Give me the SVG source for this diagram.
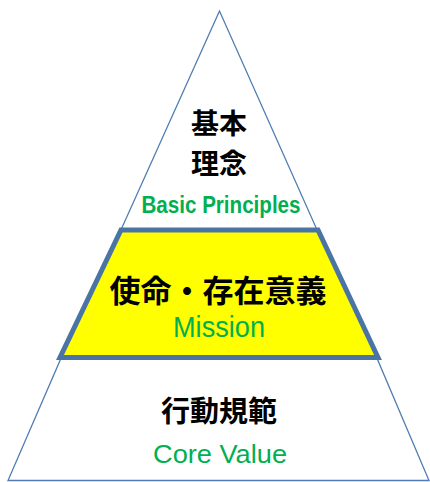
<svg xmlns="http://www.w3.org/2000/svg" width="430" height="482" viewBox="0 0 430 482">
<style>
.thin{fill:#fff;stroke:#4f7db3;stroke-width:1.3;stroke-linejoin:miter}
.thick{fill:#ffff00;stroke:#4a74a6;stroke-width:5;stroke-linejoin:miter}
.jp{font-family:"Noto Sans CJK JP","Noto Sans CJK SC",sans-serif;font-weight:bold;fill:#000;text-anchor:middle}
.en{font-family:"Liberation Sans","DejaVu Sans",sans-serif;fill:#00b050;text-anchor:middle}
</style>
<rect width="430" height="482" fill="#fff"/>
<g id="basic-principles">
<polygon class="thin" points="219.5,11 120,232 318,232"/>
<text class="jp" x="219" y="134" font-size="28">基本</text>
<text class="jp" x="219" y="174" font-size="28">理念</text>
<text class="en" x="221" y="213" font-size="23" font-weight="bold" textLength="159" lengthAdjust="spacingAndGlyphs">Basic Principles</text>
</g>
<g id="core-value">
<polygon class="thin" points="62,356 376,356 429,480.5 8,480.5"/>
<text class="jp" x="219" y="422" font-size="29">行動規範</text>
<text class="en" x="220" y="463" font-size="25" textLength="134" lengthAdjust="spacingAndGlyphs">Core Value</text>
</g>
<g id="mission">
<polygon class="thick" points="121,230 318,230 378,357.5 60,357.5"/>
<text class="jp" x="218" y="302" font-size="31">使命・存在意義</text>
<text class="en" x="219" y="337" font-size="29" textLength="92" lengthAdjust="spacingAndGlyphs">Mission</text>
</g>
</svg>
